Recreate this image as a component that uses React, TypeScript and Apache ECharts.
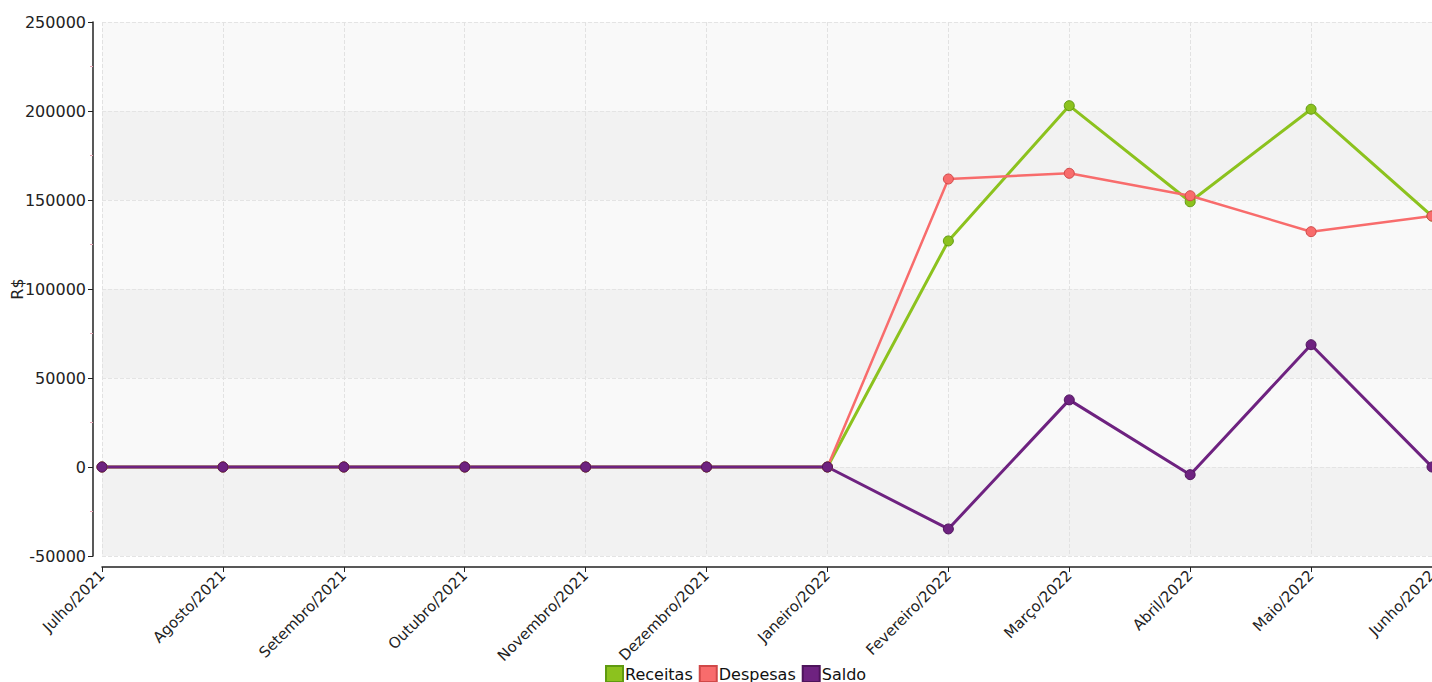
import React, { useEffect, useRef } from "react";
import * as echarts from "echarts";

const categories = [
  "Julho/2021", "Agosto/2021", "Setembro/2021", "Outubro/2021", "Novembro/2021",
  "Dezembro/2021", "Janeiro/2022", "Fevereiro/2022", "Março/2022", "Abril/2022",
  "Maio/2022", "Junho/2022",
];
const receitas = [0, 0, 0, 0, 0, 0, 0, 127000, 203000, 149000, 201000, 141000];
const despesas = [0, 0, 0, 0, 0, 0, 0, 161800, 165000, 152400, 132200, 141000];
const saldo = [0, 0, 0, 0, 0, 0, 0, -34800, 37700, -4300, 68700, 0];

const FONT = "DejaVu Sans, Verdana, sans-serif";

export default function App() {
  const ref = useRef<HTMLDivElement>(null);
  useEffect(() => {
    if (!ref.current) return;
    const chart = echarts.init(ref.current, undefined, { renderer: "svg" });
    const mk = (name: string, data: number[], color: string, border: string, width: number) => ({
      name,
      type: "line",
      data,
      symbol: "circle",
      symbolSize: 10,
      lineStyle: { color, width },
      itemStyle: { color, borderColor: border, borderWidth: 1 },
      emphasis: { disabled: true },
    });
    chart.setOption({
      animation: false,
      grid: {
        left: 102, right: 0, top: 22, bottom: 126,
        containLabel: false,
        outerBoundsMode: "none",
      },
      legend: {
        data: ["Receitas", "Despesas", "Saldo"],
        left: 600,
        top: 660,
        icon: "rect",
        itemWidth: 17,
        itemHeight: 16,
        itemGap: 6,
        textStyle: {
          fontFamily: FONT, fontSize: 16, color: "#111",
          padding: [0, 0, 0, -3],
        },
      },
      xAxis: {
        type: "category",
        data: categories,
        boundaryGap: false,
        offset: 11,
        axisLine: { onZero: false, lineStyle: { color: "#222", width: 1.5 } },
        axisTick: { alignWithLabel: true, length: 5, lineStyle: { color: "#222" } },
        axisLabel: {
          rotate: 45,
          fontFamily: FONT,
          fontSize: 15,
          color: "#222",
          margin: 6,
          interval: 0,
        },
        splitLine: { show: true, lineStyle: { color: "#e2e2e2", type: "dashed" } },
      },
      yAxis: {
        type: "value",
        min: -50000,
        max: 250000,
        interval: 50000,
        offset: 9,
        name: "R$",
        nameLocation: "middle",
        nameGap: 68,
        nameMoveOverlap: false,
        nameTextStyle: { fontFamily: FONT, fontSize: 16, color: "#222" },
        axisLine: { show: true, lineStyle: { color: "#222", width: 1.5 } },
        axisTick: { show: true, length: 5, lineStyle: { color: "#222" } },
        minorTick: { show: true, splitNumber: 2, length: 3, lineStyle: { color: "#e8a8b8" } },
        axisLabel: {
          fontFamily: FONT, fontSize: 16, color: "#222", margin: 7,
          formatter: (v: number) => String(v),
        },
        splitLine: { show: true, lineStyle: { color: "#e4e4e4", type: "dashed" } },
        splitArea: { show: true, areaStyle: { color: ["#f2f2f2", "#f9f9f9"] } },
      },
      series: [
        mk("Receitas", receitas, "#8cc21e", "#5f9a10", 3),
        mk("Despesas", despesas, "#f86c6c", "#d04848", 2.5),
        mk("Saldo", saldo, "#6e2280", "#4e145c", 3),
      ],
    });
    return () => chart.dispose();
  }, []);
  return (
    <div
      ref={ref}
      style={{ position: "fixed", left: 0, top: 0, width: 1432, height: 682, background: "#fff" }}
    />
  );
}
